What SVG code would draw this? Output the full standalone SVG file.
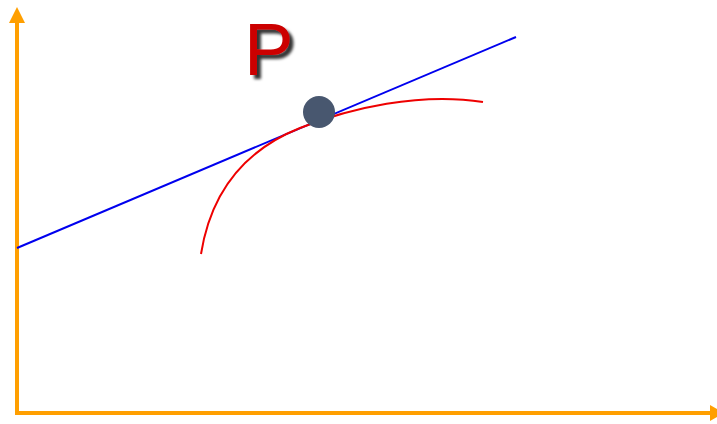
<svg xmlns="http://www.w3.org/2000/svg" width="717" height="424" viewBox="0 0 717 424">
<defs>
<style>
.axis{stroke:#FF9F00;stroke-width:4;fill:none}
.head{fill:#FF9F00}
</style>
<filter id="sh" x="-20%" y="-20%" width="150%" height="150%">
<feGaussianBlur in="SourceAlpha" stdDeviation="1.5"/>
<feOffset dx="4" dy="4" result="b"/>
<feFlood flood-color="#000" flood-opacity="0.8"/>
<feComposite in2="b" operator="in"/>
<feMerge><feMergeNode/><feMergeNode in="SourceGraphic"/></feMerge>
</filter>
</defs>
<rect width="717" height="424" fill="#fff"/>
<g id="connectors">
<path class="axis" d="M17,413 V20"/>
<polygon class="head" points="17,7 9,23 25,23"/>
<path class="axis" d="M15,413 H712"/>
<polygon class="head" points="724,413 710,405 710,421"/>
<path d="M17,248 L516,37" stroke="#0000EE" stroke-width="2" fill="none"/>
<path d="M201,254 C212,185 250,148 300,128 C350,108 420,92 483,102" stroke="#EE0000" stroke-width="2" fill="none"/>
</g>
<g id="point">
<circle cx="319" cy="112" r="16" fill="#48576F"/>
</g>
<g id="label">
<text x="244" y="75" font-family="Liberation Sans, Arial, sans-serif" font-size="74" fill="#CC0000" filter="url(#sh)">P</text>
</g>
</svg>
